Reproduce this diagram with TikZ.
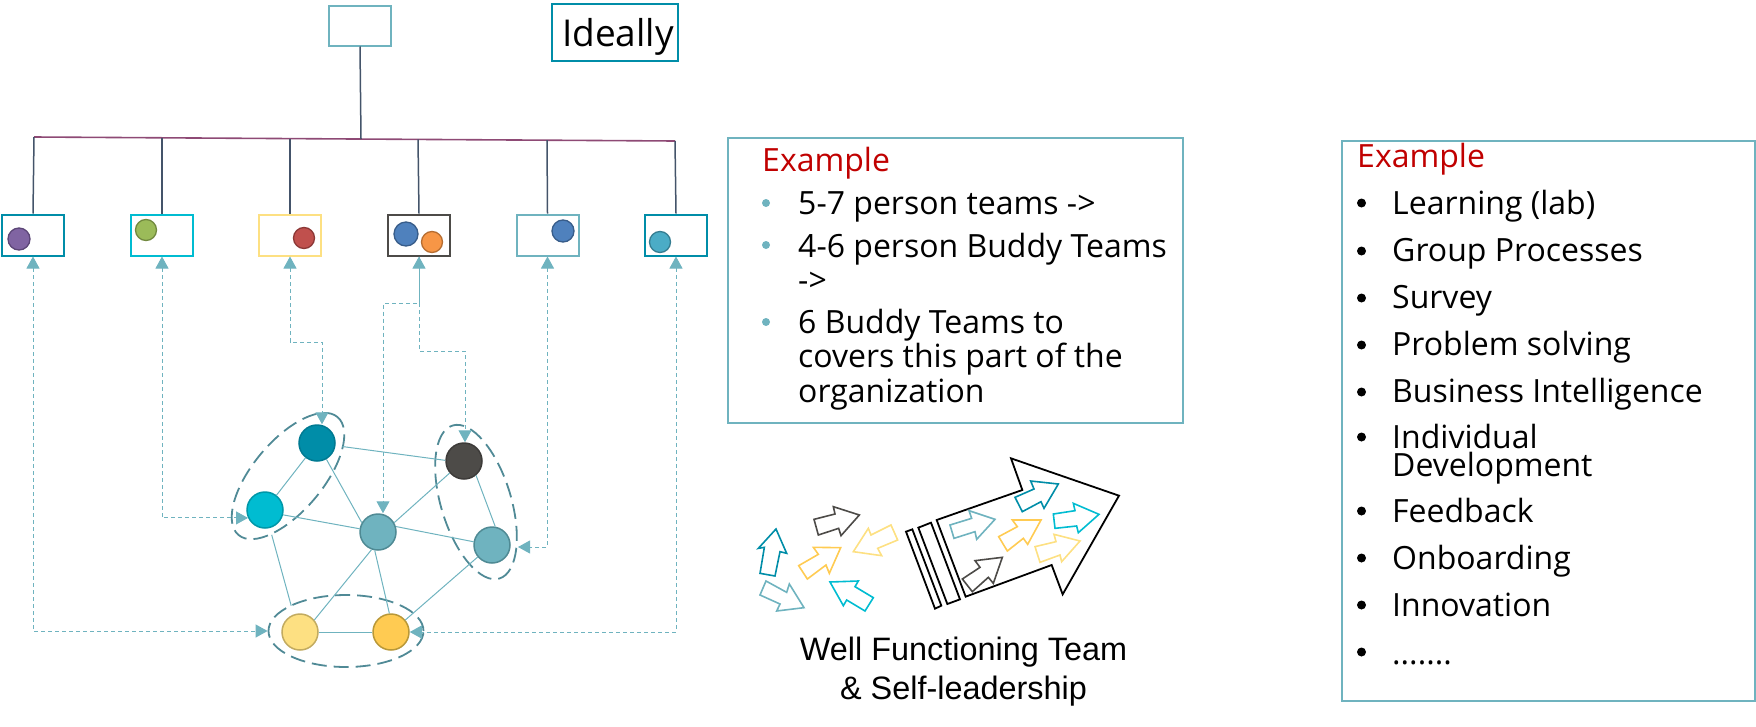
\documentclass[tikz,border=0pt]{standalone}
\usepackage{fontspec}
\setmainfont{Open Sans}
\newfontfamily\arialfont{Liberation Sans}
\usetikzlibrary{arrows.meta,shapes.geometric,calc}
\definecolor{tealL}{HTML}{6FB3BF}
\definecolor{tealLe}{HTML}{4F8A94}
\definecolor{tealD}{HTML}{008DA8}
\definecolor{tealDe}{HTML}{007A92}
\definecolor{cyanC}{HTML}{00BCD1}
\definecolor{cyanE}{HTML}{0097A8}
\definecolor{yelL}{HTML}{FDE082}
\definecolor{yelLe}{HTML}{C2AB60}
\definecolor{yelD}{HTML}{FFCB52}
\definecolor{yelDe}{HTML}{B99838}
\definecolor{grayD}{HTML}{4D4B48}
\definecolor{grayE}{HTML}{3D3B39}
\definecolor{plum}{HTML}{8E4A75}
\definecolor{slate}{HTML}{44546A}
\definecolor{ellC}{HTML}{508A96}
\definecolor{redC}{HTML}{C00000}
\definecolor{purF}{HTML}{8064A2}
\definecolor{purE}{HTML}{5C4677}
\definecolor{grnF}{HTML}{9BBB59}
\definecolor{grnE}{HTML}{71893F}
\definecolor{redF}{HTML}{C0504D}
\definecolor{redE}{HTML}{8C3836}
\definecolor{bluF}{HTML}{4F81BD}
\definecolor{bluE}{HTML}{385D8A}
\definecolor{orgF}{HTML}{F79646}
\definecolor{orgE}{HTML}{B66D31}
\definecolor{tqF}{HTML}{4BACC6}
\definecolor{tqE}{HTML}{357D91}
\tikzset{
  x=1pt,y=-1pt,
  boxn/.style={draw=#1,line width=2pt,rectangle,inner sep=0pt,minimum width=62pt,minimum height=41pt,fill=white},
  dot/.style n args={3}{circle,draw=#2,fill=#1,line width=1.3pt,inner sep=0pt,minimum size=#3},
  netn/.style 2 args={circle,draw=#2,fill=#1,line width=1.5pt,inner sep=0pt,minimum size=36pt},
  buddy/.style={ellipse,draw=ellC,line width=1.8pt,dash pattern=on 15pt off 7pt,inner sep=0pt},
  bar/.style={draw=plum,line width=1.6pt},
  drop/.style={draw=slate,line width=1.5pt},
  edgeln/.style={draw=tealL,line width=1pt},
  dashln/.style={draw=tealL,line width=1pt,dash pattern=on 4pt off 3pt},
  both/.style={dashln,{Triangle[length=12pt,width=13pt,fill=tealL]}-{Triangle[length=12pt,width=13pt,fill=tealL]}},
  tohead/.style={dashln,-{Triangle[length=12pt,width=13pt,fill=tealL]}},
  panel/.style={draw=tealL,line width=1.6pt},
  txt/.style={anchor=base west,inner sep=0pt,align=left,font=\fontsize{32}{35}\selectfont},
  redtxt/.style={txt,text=redC},
  bul/.style={circle,inner sep=0pt,minimum size=#1,fill=bulcol},
  sarrow/.style={draw=#1,line width=1.6pt,line join=miter},
  bigarrow/.style={draw=black,line width=1.8pt,line join=miter},
}
\colorlet{bulcol}{tealL}
\begin{document}
\begin{tikzpicture}
\useasboundingbox (0,0) rectangle (1756,726);
% top
\node[boxn=tealL,minimum width=62pt,minimum height=40pt] (T) at (360,25.5) {};
\node[draw=tealD,line width=2pt,inner sep=0pt,minimum width=126pt,minimum height=57pt] (I) at (614.5,32.5) {};
\node[txt,anchor=base,font=\fontsize{37}{40}\selectfont] (Itxt) at (618,46) {Ideally};
% boxes
\node[boxn=tealD] (B1) at (33,235) {};
\node[boxn=cyanC] (B2) at (162,235) {};
\node[boxn=yelL] (B3) at (290,235) {};
\node[boxn=grayD] (B4) at (419,235) {};
\node[boxn=tealL] (B5) at (547.5,235) {};
\node[boxn=tealD] (B6) at (676,235) {};
% bar
\coordinate (h1) at (34,137);
\coordinate (h2) at (162,137.8);
\coordinate (h3) at (290,138.6);
\coordinate (h0) at (361,139);
\coordinate (h4) at (418,139.4);
\coordinate (h5) at (547,140.2);
\coordinate (h6) at (675,141);
\draw[bar] (h1) -- (h6);
\draw[drop] (T.south) -- (h0);
\foreach \i in {1,...,6}{\draw[drop] (h\i) -- (B\i.north);}
% dots in boxes
\node[dot={purF}{purE}{22pt}] (d1) at (19,239) {};
\node[dot={grnF}{grnE}{21pt}] (d2) at (146,230) {};
\node[dot={redF}{redE}{21pt}] (d3) at (304,238) {};
\node[dot={bluF}{bluE}{24pt}] (d4) at (406,234) {};
\node[dot={orgF}{orgE}{21pt}] (d5) at (432,242) {};
\node[dot={bluF}{bluE}{22pt}] (d6) at (563,231) {};
\node[dot={tqF}{tqE}{21pt}] (d7) at (660,242) {};
% buddy ellipses
\node[buddy,minimum width=154pt,minimum height=70pt,rotate=50] (E1) at (288,476) {};
\node[buddy,minimum width=160pt,minimum height=70pt,rotate=-73] (E2) at (476,502) {};
\node[buddy,minimum width=155pt,minimum height=72pt] (E3) at (346,631) {};
% network
\node[netn={tealD}{tealDe}] (N1) at (317,443) {};
\node[netn={cyanC}{cyanE}] (N2) at (265,510) {};
\node[netn={tealL}{tealLe}] (N3) at (378,532) {};
\node[netn={grayD}{grayE}] (N4) at (464,461) {};
\node[netn={tealL}{tealLe}] (N5) at (492,545) {};
\node[netn={yelL}{yelLe}] (N6) at (300,632) {};
\node[netn={yelD}{yelDe}] (N7) at (391,632) {};
\draw[edgeln] (N1) -- (N2);
\draw[edgeln] (N1.-60) -- (N3.150);
\draw[edgeln,shorten <=7pt] (N1.-8) -- (N4.178);
\draw[edgeln] (N2.-15) -- (N3.170);
\draw[edgeln,shorten <=7pt,shorten >=9pt] (N2.-75) -- (N6.110);
\draw[edgeln] (N3.30) -- (N4.-140);
\draw[edgeln] (N3.17) -- (N5.170);
\draw[edgeln] (N3.-110) -- (N6.40);
\draw[edgeln] (N3.-100) -- (N7.95);
\draw[edgeln] (N4.-50) -- (N5.80);
\draw[edgeln] (N5.-140) -- (N7.40);
\draw[edgeln] (N6.east) -- (N7.west);
% dashed links
\coordinate (c3) at (322,342);
\coordinate (c4a) at (383,303);
\coordinate (c4b) at (465,351);
\coordinate (e2in) at (518,547);
\draw[both] (B1.south) |- (E3.west);
\draw[both] (B2.south) |- (N2.205);
\draw[both] (B3.south) |- (c3) -- (c3 |- N1.north);
\draw[tohead] (B4.south) |- (c4a) -- (c4a |- N3.north);
\draw[both] (B4.south) |- (c4b) -- (c4b |- N4.north);
\draw[both] (B5.south) |- (e2in);
\draw[both] (B6.south) |- (N7.east);
% panel 1
\node[panel,minimum width=455pt,minimum height=285pt,inner sep=0pt] (P1) at (955.5,280.5) {};
\node[redtxt] (P1h) at (762,171) {Example};
\foreach \y/\n in {203/a,245/b,322/c}{\node[bul=8pt] (p\n) at (766,\y) {};}
\node[txt] (t1) at (798,214) {5-7 person teams ->};
\node[txt] (t2) at (798,257) {4-6 person Buddy Teams};
\node[txt] (t2b) at (798,291) {->};
\node[txt] (t3) at (798,333) {6 Buddy Teams to};
\node[txt] (t3b) at (798,367) {covers this part of the};
\node[txt] (t3c) at (798,402) {organization};
% panel 2
\node[panel,minimum width=413pt,minimum height=560pt,inner sep=0pt] (P2) at (1548.5,421) {};
\node[redtxt] (P2h) at (1357,167) {Example};
\colorlet{bulcol}{black}
\foreach \y/\n in {203/a,251/b,298/c,345/d,392/e,437/f,511/g,558/h,605/i,652/j}{\node[bul=9pt] (q\n) at (1361.5,\y) {};}
\node[txt] (l1) at (1392,214) {Learning (lab)};
\node[txt] (l2) at (1392,261) {Group Processes};
\node[txt] (l3) at (1392,308) {Survey};
\node[txt] (l4) at (1392,355) {Problem solving};
\node[txt] (l5) at (1392,402) {Business Intelligence};
\node[txt] (l6) at (1392,448) {Individual};
\node[txt] (l6b) at (1392,476) {Development};
\node[txt] (l7) at (1392,522) {Feedback};
\node[txt] (l8) at (1392,569) {Onboarding};
\node[txt] (l9) at (1392,616) {Innovation};
\node[txt] (l10) at (1392,664) {.......};
% team label
\node[txt,anchor=base,font=\arialfont\fontsize{32.4}{40}\selectfont] (w1) at (963.5,660) {Well Functioning Team};
\node[txt,anchor=base,font=\arialfont\fontsize{32.4}{40}\selectfont] (w2) at (963.5,699) {\& Self-leadership};
% arrows
\begin{scope}[shift={(730,440)},x=0.33333pt,y=-0.33333pt]
\draw[bigarrow] (620,240) -- (877,150) -- (843,55) -- (1167,167) -- (998,463) -- (965,375) -- (707,470) -- cycle;
\draw[bigarrow] (565,263) -- (603,248) -- (690,478) -- (652,492) -- cycle;
\draw[bigarrow] (528,275) -- (547,268) -- (634,497) -- (615,506) -- cycle;
\draw[sarrow=tealD] (138,267) -- (170,340) -- (150,335) -- (135,408) -- (90,400) -- (103,322) -- (85,325) -- cycle;
\draw[sarrow=tealL] (108,423) -- (170,457) -- (178,432) -- (222,503) -- (140,513) -- (150,492) -- (90,465) -- cycle;
\draw[sarrow=grayD] (252,238) -- (315,222) -- (310,200) -- (388,225) -- (333,287) -- (326,265) -- (265,285) -- cycle;
\draw[sarrow=yelD] (332,323) -- (298,400) -- (288,375) -- (232,417) -- (206,377) -- (265,343) -- (250,322) -- cycle;
\draw[sarrow=yelL] (370,335) -- (415,265) -- (423,285) -- (483,255) -- (503,300) -- (443,325) -- (455,347) -- cycle;
\draw[sarrow=cyanC] (300,426) -- (385,423) -- (375,440) -- (430,473) -- (405,513) -- (350,480) -- (340,497) -- cycle;
\draw[sarrow=tealL] (660,255) -- (725,235) -- (717,212) -- (795,238) -- (740,298) -- (735,275) -- (672,295) -- cycle;
\draw[sarrow=tealD] (855,172) -- (912,147) -- (902,123) -- (985,132) -- (942,205) -- (933,185) -- (877,215) -- cycle;
\draw[sarrow=cyanC] (970,222) -- (1035,212) -- (1030,190) -- (1107,223) -- (1045,278) -- (1040,258) -- (975,265) -- cycle;
\draw[sarrow=yelD] (806,290) -- (862,260) -- (847,240) -- (933,240) -- (893,313) -- (880,295) -- (832,333) -- cycle;
\draw[sarrow=yelL] (915,320) -- (978,305) -- (972,283) -- (1050,303) -- (995,365) -- (990,345) -- (930,367) -- cycle;
\draw[sarrow=grayD] (697,417) -- (750,382) -- (735,362) -- (817,352) -- (790,430) -- (775,412) -- (727,455) -- cycle;
\end{scope}
\end{tikzpicture}
\end{document}
